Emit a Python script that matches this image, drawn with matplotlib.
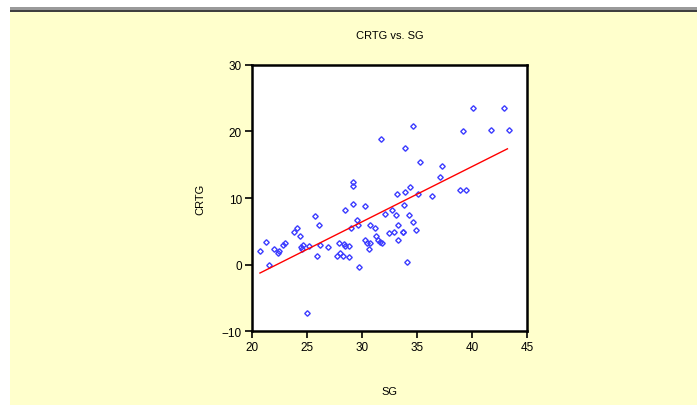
# Grafico de dispersao CRTG vs. SG com reta ajustada
import matplotlib
matplotlib.use("Agg")
import matplotlib.pyplot as plt
from matplotlib.patches import Rectangle

# dados
sg = [20.75, 21.3, 21.6, 22.0, 22.35, 22.5, 22.85, 23.0, 23.8, 24.1,
      24.35, 24.5, 24.65, 24.6, 25.2, 25.0, 25.7, 25.95, 26.1, 26.2,
      26.9, 27.75, 28.05, 28.25, 28.8, 27.95, 28.35, 28.5, 28.8, 28.5,
      29.2, 29.55, 29.6, 29.0, 29.7, 29.2, 29.2, 30.3, 30.75, 30.3,
      30.5, 30.75, 30.6, 31.15, 31.3, 31.45, 31.65, 31.85, 31.7, 32.05,
      32.45, 32.9, 32.7, 33.1, 33.3, 33.3, 33.7, 33.75, 33.15, 33.8,
      33.95, 33.95, 34.05, 34.25, 34.35, 34.6, 34.6, 34.9, 35.05, 35.3,
      36.35, 37.1, 37.3, 38.9, 39.4, 39.15, 40.1, 41.7, 42.9, 43.3]
crtg = [2.0, 3.45, 0.0, 2.35, 1.7, 2.1, 3.0, 3.3, 4.95, 5.55,
        4.3, 2.7, 3.0, 2.3, 2.8, -7.25, 7.3, 1.35, 6.0, 3.0,
        2.6, 1.35, 1.7, 1.35, 1.1, 3.2, 3.1, 2.85, 2.85, 8.2,
        9.1, 6.7, 6.0, 5.45, -0.4, 12.45, 11.8, 8.8, 6.0, 3.7,
        3.25, 3.2, 2.35, 5.45, 4.3, 3.7, 3.45, 3.25, 18.9, 7.55,
        4.75, 4.95, 8.2, 7.5, 6.0, 3.7, 4.95, 4.95, 10.55, 9.0,
        10.95, 17.5, 0.45, 7.5, 11.6, 6.45, 20.8, 5.2, 10.55, 15.35,
        10.3, 13.1, 14.8, 11.2, 11.2, 20.0, 23.6, 20.2, 23.6, 20.2]

# extremos da reta ajustada
fit_x = [20.75, 43.2]
fit_y = [-1.25, 17.4]

xticks = [20, 25, 30, 35, 40, 45]
yticks = [-10, 0, 10, 20, 30]

plt.rcParams['font.family'] = ['Liberation Sans', 'DejaVu Sans']

fig = plt.figure(figsize=(6.97, 4.10), dpi=100)
fig.patch.set_facecolor('white')

# fundo amarelo e barra cinza no topo
fundo = [((10 / 697, 0.01), 1 - 0.01 - 13 / 410, '#FFFFCC'),
         ((10 / 697, 1 - 11 / 410), 3 / 410, '#9a9a9a'),
         ((10 / 697, 1 - 13 / 410), 2 / 410, '#404040')]
for xy, h, c in fundo:
    fig.add_artist(Rectangle(xy, 1, h, transform=fig.transFigure,
                             facecolor=c, edgecolor='none', zorder=-10))

ax = fig.add_axes([0.3611, 0.1895, 0.3954, 0.6498])
ax.set_facecolor('white')

ax.plot(sg, crtg, linestyle='none', marker='D', markersize=2.8,
        markerfacecolor='none', markeredgecolor='#3c3cff', markeredgewidth=1.0)
ax.plot(fit_x, fit_y, color='red', linewidth=1.0)

ax.set_xlim(20, 45)
ax.set_ylim(-10, 30)
ax.set_xticks(xticks)
ax.set_yticks(yticks)
ax.tick_params(direction='out', length=5, width=1.2, labelsize=8.5, pad=2)

for s in ax.spines.values():
    s.set_linewidth(1.8)

ax.set_title('CRTG vs. SG', fontsize=8, pad=19.5)
ax.set_xlabel('SG', fontsize=8, labelpad=24)
ax.set_ylabel('CRTG', fontsize=8, labelpad=12)

fig.savefig('out.png', dpi=100, facecolor=fig.get_facecolor())
